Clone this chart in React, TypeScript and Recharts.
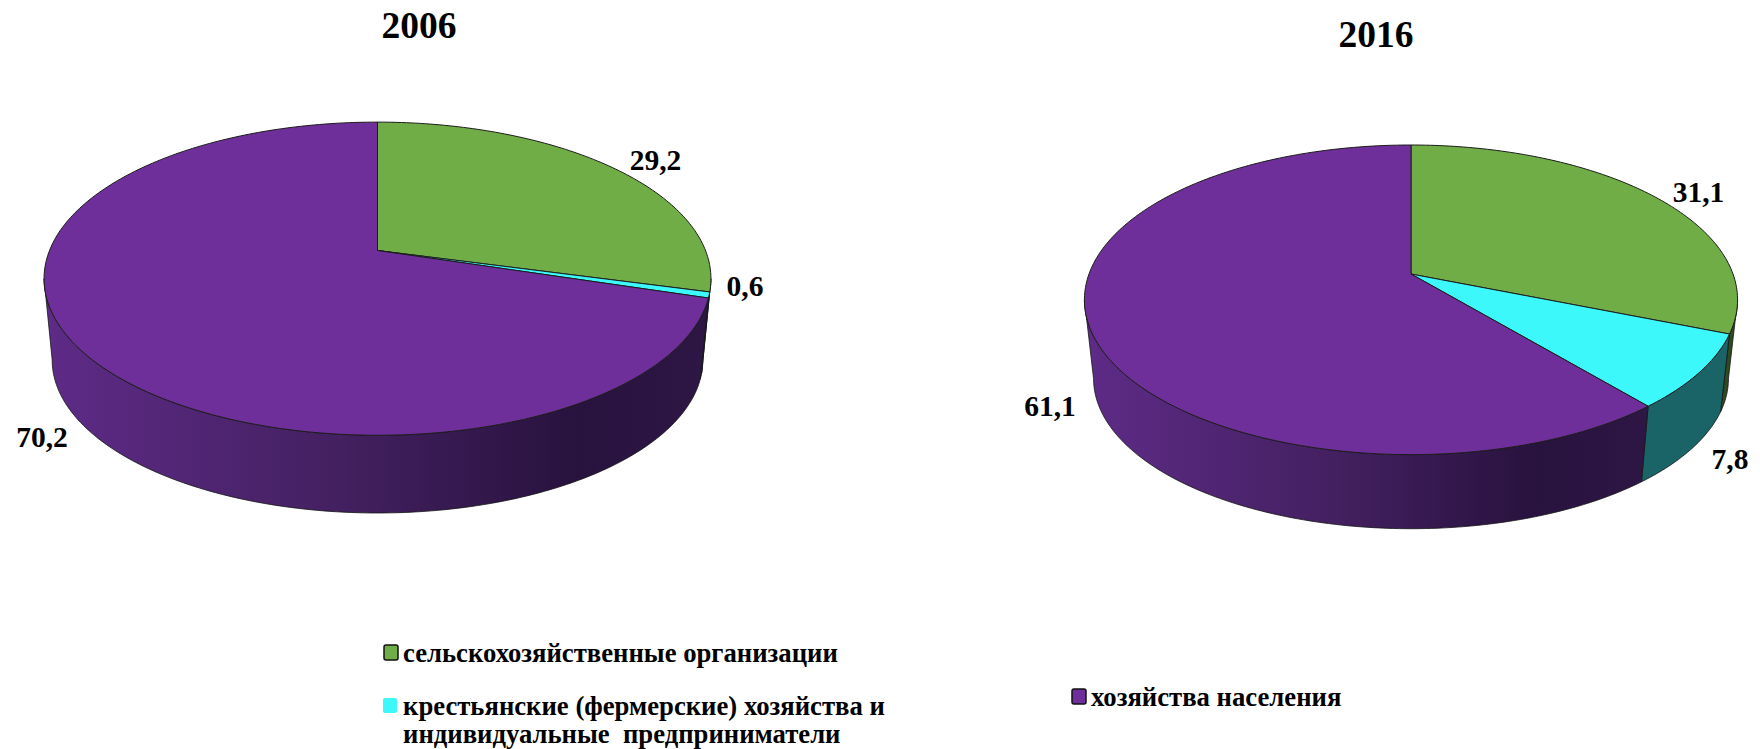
import { PieChart, Pie } from 'recharts'

const categories = [
  'сельскохозяйственные организации',
  'крестьянские (фермерские) хозяйства и',
  'хозяйства населения',
]
const legendExtraLine = 'индивидуальные\u00a0 предприниматели'
const values2006 = [29.2, 0.6, 70.2]
const values2016 = [31.1, 7.8, 61.1]
const topColors = ['#70AD47', '#3DF8FB', '#6F2F9B']
const wallColors = ['#2F4A1E', '#1A6367', 'url(#WALL)']

const FONT = '"Liberation Serif", "Times New Roman", serif'

// perspective of each disc: A/B are half axes before the w divide, q is the tilt
const disc2006 = { cx: 377.5, top: { y: 250.5, A: 328, B: 151.5 }, bottom: { y: 332.5, A: 320, B: 148 }, q: -0.18 }
const disc2016 = { cx: 1411, top: { y: 274, A: 322, B: 150.5 }, bottom: { y: 353.5, A: 313, B: 146 }, q: -0.1667 }

const labels2006 = [{ x: 655.5, y: 160 }, { x: 745, y: 286 }, { x: 42, y: 437 }]
const labels2016 = [{ x: 1698.5, y: 192 }, { x: 1730, y: 459 }, { x: 1050, y: 406 }]

const project = (d: any, ring: any, angle: number) => {
  const t = ((90 - angle) * Math.PI) / 180
  const u = Math.sin(t)
  const v = -Math.cos(t)
  const w = 1 + d.q * v
  return [d.cx + (ring.A * u) / w, ring.y + (ring.B * v) / w]
}

const arc = (d: any, ring: any, from: number, to: number) => {
  const n = Math.max(2, Math.ceil(Math.abs(to - from)))
  const pts: number[][] = []
  for (let i = 0; i <= n; i++) pts.push(project(d, ring, from + ((to - from) * i) / n))
  return pts
}

const toPath = (pts: number[][]) =>
  'M' + pts.map(p => `${p[0].toFixed(2)},${p[1].toFixed(2)}`).join('L') + 'Z'

const topShape = (d: any) => (props: any) => {
  const pts = [[d.cx, d.top.y], ...arc(d, d.top, props.startAngle, props.endAngle)]
  return <path d={toPath(pts)} fill={props.fill} stroke="#1c1c1c" strokeWidth={1} strokeLinejoin="round" />
}

// only the front of the rim is drawn, between the two widest points of the disc
const wallShape = (d: any) => (props: any) => {
  const tangent = (Math.acos(d.q) * 180) / Math.PI
  const from = Math.min(props.startAngle, 90 - tangent)
  const to = Math.max(props.endAngle, tangent - 270)
  if (from <= to) return <g />
  const upper = arc(d, d.top, from, to)
  const lower = arc(d, d.bottom, to, from)
  return <path d={toPath([...upper, ...lower])} fill={wallColors[props.index]} stroke="#141414" strokeWidth={0.8} strokeLinejoin="round" />
}

const makeData = (values: number[]) =>
  categories.map((name, i) => ({ name, value: values[i], fill: topColors[i] }))

const valueLabel = (pos: { x: number; y: number }[]) => (p: any) => (
  <text
    key={p.index}
    x={pos[p.index].x}
    y={pos[p.index].y}
    textAnchor="middle"
    dominantBaseline="central"
    fontFamily={FONT}
    fontWeight="bold"
    fontSize={29.5}
    fill="#000"
  >
    {String(p.value).replace('.', ',')}
  </text>
)

const Swatch = ({ x, y, fill, border }: any) => (
  <rect x={x} y={y} width={14} height={15} rx={2} fill={fill} stroke={border ? '#111' : 'none'} strokeWidth={border ? 1.5 : 0} />
)

const LegendText = ({ x, y, children }: any) => (
  <text x={x} y={y} fontFamily={FONT} fontWeight="bold" fontSize={26.7} fill="#000">
    {children}
  </text>
)

export default function App() {
  const data2006 = makeData(values2006)
  const data2016 = makeData(values2016)
  return (
    <div style={{ position: 'absolute', left: 0, top: 0, width: 1760, height: 749, overflow: 'hidden', background: '#fff' }}>
      <PieChart width={1760} height={749} margin={{ top: 0, right: 0, bottom: 0, left: 0 }}>
        <defs>
          <linearGradient id="WALL" x1="0" y1="0" x2="1" y2="0">
            <stop offset="0" stopColor="#5E2B87" />
            <stop offset="0.45" stopColor="#432060" />
            <stop offset="0.8" stopColor="#28123E" />
            <stop offset="1" stopColor="#2E1645" />
          </linearGradient>
        </defs>

        <Pie data={data2006} dataKey="value" cx={disc2006.cx} cy={disc2006.top.y} outerRadius={300} startAngle={90} endAngle={-270} shape={wallShape(disc2006)} isAnimationActive={false} legendType="none" />
        <Pie data={data2016} dataKey="value" cx={disc2016.cx} cy={disc2016.top.y} outerRadius={300} startAngle={90} endAngle={-270} shape={wallShape(disc2016)} isAnimationActive={false} legendType="none" />
        <Pie data={data2006} dataKey="value" cx={disc2006.cx} cy={disc2006.top.y} outerRadius={300} startAngle={90} endAngle={-270} shape={topShape(disc2006)} label={valueLabel(labels2006)} labelLine={false} isAnimationActive={false} />
        <Pie data={data2016} dataKey="value" cx={disc2016.cx} cy={disc2016.top.y} outerRadius={300} startAngle={90} endAngle={-270} shape={topShape(disc2016)} label={valueLabel(labels2016)} labelLine={false} isAnimationActive={false} />

        <text x={419} y={38} textAnchor="middle" fontFamily={FONT} fontWeight="bold" fontSize={37.5} fill="#000">2006</text>
        <text x={1376} y={47} textAnchor="middle" fontFamily={FONT} fontWeight="bold" fontSize={37.5} fill="#000">2016</text>

        <Swatch x={384} y={645} fill={topColors[0]} border />
        <LegendText x={403} y={662}>{categories[0]}</LegendText>
        <Swatch x={383} y={698} fill={topColors[1]} />
        <LegendText x={403} y={715}>{categories[1]}</LegendText>
        <LegendText x={403} y={743}>{legendExtraLine}</LegendText>
        <Swatch x={1072} y={689} fill={topColors[2]} border />
        <LegendText x={1091} y={706}>{categories[2]}</LegendText>
      </PieChart>
    </div>
  )
}
